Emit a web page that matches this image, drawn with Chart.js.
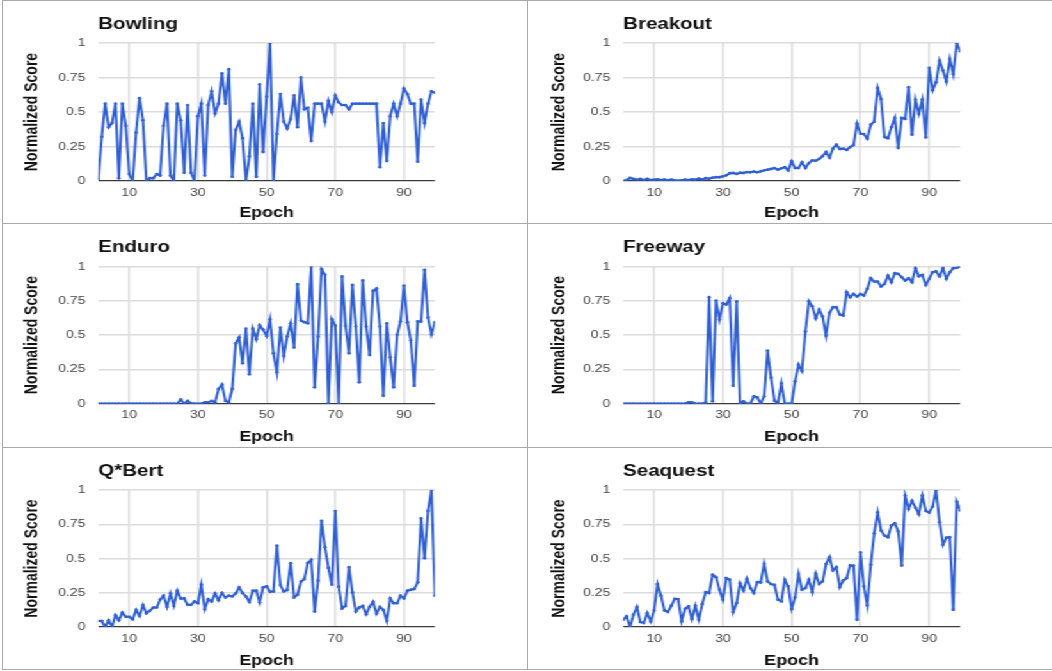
<!DOCTYPE html>
<html>
<head>
<meta charset="utf-8">
<script src="https://cdn.jsdelivr.net/npm/chart.js@4.4.1/dist/chart.umd.min.js"></script>
<style>
html,body{margin:0;padding:0;background:#fff;width:1052px;height:671px;overflow:hidden;}
#stage{position:absolute;left:0;top:0;height:671px;transform-origin:0 0;}
.panel{position:absolute;}
.panel canvas{display:block;}
.frame{position:absolute;box-sizing:border-box;border:1px solid #a9a9a9;}
</style>
</head>
<body>
<div id="frames"></div>
<div id="stage"></div>
<script>
// ---- data (normalized score per epoch, epochs 1..99) ----
const TITLES = ['Bowling', 'Breakout', 'Enduro', 'Freeway', 'Q*Bert', 'Seaquest'];
const X_TICKS = [10, 30, 50, 70, 90];
const Y_TICKS = [0, 0.25, 0.5, 0.75, 1];
const Y_TICK_LABELS = ['0', '0.25', '0.5', '0.75', '1'];
const X_TITLE = 'Epoch';
const Y_TITLE = 'Normalized Score';

const bowling = [
  0.015, 0.32, 0.56, 0.39, 0.42, 0.56, 0.02, 0.56, 0.40, 0.05,
  0.0, 0.35, 0.60, 0.44, 0.0, 0.02, 0.02, 0.05, 0.04, 0.40,
  0.56, 0.04, 0.0, 0.56, 0.44, 0.06, 0.55, 0.06, 0.0, 0.47,
  0.56, 0.04, 0.55, 0.65, 0.49, 0.56, 0.78, 0.56, 0.81, 0.03,
  0.37, 0.43, 0.31, 0.0, 0.18, 0.56, 0.03, 0.70, 0.21, 0.61,
  1.0, 0.0, 0.34, 0.63, 0.43, 0.38, 0.45, 0.62, 0.39, 0.75,
  0.52, 0.53, 0.29, 0.56, 0.56, 0.56, 0.43, 0.58, 0.50, 0.62,
  0.57, 0.55, 0.55, 0.52, 0.56, 0.56, 0.56, 0.56, 0.56, 0.56,
  0.56, 0.56, 0.10, 0.42, 0.145, 0.47, 0.56, 0.47, 0.56, 0.67,
  0.63, 0.56, 0.56, 0.14, 0.59, 0.42, 0.56, 0.65, 0.64
];
const breakout = [
  0.0, 0.007, 0.022, 0.015, 0.01, 0.015, 0.007, 0.015, 0.007, 0.01,
  0.012, 0.007, 0.01, 0.005, 0.01, 0.005, 0.002, 0.005, 0.01, 0.007,
  0.012, 0.01, 0.017, 0.012, 0.02, 0.017, 0.024, 0.027, 0.027, 0.034,
  0.041, 0.056, 0.058, 0.051, 0.06, 0.058, 0.065, 0.063, 0.068, 0.063,
  0.07, 0.077, 0.082, 0.087, 0.094, 0.082, 0.092, 0.1, 0.077, 0.143,
  0.094, 0.094, 0.135, 0.094, 0.13, 0.15, 0.147, 0.16, 0.18, 0.21,
  0.17, 0.234, 0.263, 0.232, 0.234, 0.225, 0.246, 0.26, 0.415, 0.343,
  0.34, 0.307, 0.408, 0.43, 0.674, 0.594, 0.319, 0.31, 0.39, 0.457,
  0.239, 0.457, 0.45, 0.68, 0.336, 0.59, 0.486, 0.59, 0.316, 0.82,
  0.657, 0.715, 0.872, 0.80, 0.72, 0.884, 0.775, 1.0, 0.94
];
const enduro = [
  0, 0, 0, 0, 0, 0, 0, 0, 0, 0,
  0, 0, 0, 0, 0, 0, 0, 0, 0, 0,
  0, 0, 0, 0, 0.03, 0, 0.02, 0.003, 0, 0,
  0, 0.01, 0.01, 0.02, 0.01, 0.107, 0.139, 0.02, 0.01, 0.107,
  0.44, 0.484, 0.294, 0.547, 0.214, 0.547, 0.47, 0.572, 0.54, 0.494,
  0.616, 0.367, 0.229, 0.555, 0.348, 0.489, 0.586, 0.409, 0.871, 0.606,
  0.594, 0.586, 1.0, 0.119, 0.489, 0.98, 0.939, 0, 0.616, 0.569,
  0, 0.927, 0.567, 0.367, 0.866, 0.562, 0.156, 0.898, 0.562, 0.355,
  0.822, 0.839, 0.562, 0.058, 0.586, 0.338, 0.119, 0.501, 0.6, 0.861,
  0.594, 0.46, 0.131, 0.6, 0.6, 0.976, 0.628, 0.506, 0.594
];
const freeway = [
  0, 0, 0, 0, 0, 0, 0, 0, 0, 0,
  0, 0, 0, 0, 0, 0, 0, 0, 0, 0.01,
  0.01, 0, 0, 0, 0.007, 0.776, 0.017, 0.752, 0.613, 0.732,
  0.723, 0.769, 0.131, 0.745, 0, 0.017, 0, 0, 0.054, 0.046,
  0, 0.054, 0.387, 0.19, 0.022, 0, 0.148, 0, 0, 0,
  0.163, 0.285, 0.238, 0.526, 0.747, 0.71, 0.623, 0.686, 0.635, 0.496,
  0.662, 0.703, 0.703, 0.65, 0.642, 0.813, 0.776, 0.8, 0.781, 0.8,
  0.788, 0.837, 0.915, 0.89, 0.89, 0.854, 0.873, 0.934, 0.886, 0.951,
  0.946, 0.922, 0.898, 0.915, 0.886, 0.988, 0.929, 0.939, 0.866, 0.91,
  0.959, 0.964, 0.929, 0.988, 0.91, 0.959, 0.988, 0.99, 1.0
];
const qbert = [
  0.044, 0.044, 0, 0.049, 0, 0.086, 0.049, 0.105, 0.074, 0.074,
  0.056, 0.125, 0.081, 0.16, 0.1, 0.118, 0.142, 0.142, 0.2, 0.228,
  0.147, 0.245, 0.154, 0.265, 0.208, 0.208, 0.162, 0.162, 0.186, 0.174,
  0.309, 0.13, 0.203, 0.186, 0.245, 0.196, 0.248, 0.216, 0.228, 0.223,
  0.245, 0.289, 0.248, 0.223, 0.184, 0.265, 0.265, 0.179, 0.289, 0.297,
  0.257, 0.26, 0.593, 0.306, 0.26, 0.27, 0.466, 0.216, 0.235, 0.331,
  0.35, 0.468, 0.49, 0.113, 0.338, 0.775, 0.583, 0.431, 0.309, 0.846,
  0.294, 0.135, 0.154, 0.436, 0.252, 0.113, 0.142, 0.154, 0.093, 0.147,
  0.184, 0.098, 0.147, 0.125, 0.044, 0.208, 0.174, 0.174, 0.228, 0.208,
  0.265, 0.272, 0.277, 0.326, 0.792, 0.502, 0.848, 1.0, 0.228
];
const seaquest = [
  0.053, 0.078, 0, 0.09, 0.146, 0.036, 0.029, 0.102, 0.041, 0.121,
  0.313, 0.228, 0.121, 0.109, 0.155, 0.206, 0.204, 0.041, 0.133, 0.15,
  0.058, 0.155, 0.053, 0.167, 0.255, 0.248, 0.381, 0.364, 0.272, 0.199,
  0.357, 0.345, 0.109, 0.175, 0.32, 0.267, 0.352, 0.284, 0.248, 0.328,
  0.325, 0.461, 0.333, 0.313, 0.308, 0.199, 0.187, 0.345, 0.296, 0.131,
  0.216, 0.386, 0.272, 0.284, 0.345, 0.255, 0.388, 0.313, 0.333, 0.459,
  0.51, 0.413, 0.437, 0.291, 0.34, 0.357, 0.449, 0.447, 0.053, 0.544,
  0.296, 0.158, 0.454, 0.684, 0.837, 0.704, 0.667, 0.655, 0.74, 0.757,
  0.697, 0.449, 0.959, 0.862, 0.92, 0.871, 0.823, 0.959, 0.847, 0.835,
  0.879, 1.0, 0.765, 0.6, 0.653, 0.655, 0.126, 0.915, 0.85
];
const SERIES = [bowling, breakout, enduro, freeway, qbert, seaquest];

// ---- layout / style (reference pixel coordinates) ----
const S = 1.28;               // horizontal stretch of the reference
const FONT = "'Liberation Sans', Arial, Helvetica, sans-serif";
const BLUE = '#2f5fd2';
const GRID = '#dcdcdc';
const COLS = [{x: 0, w: 527, left: 98.3, right: 434.5}, {x: 527, w: 525, left: 622.8, right: 960}];
const ROWS = [{y: 0, h: 223, top: 43, bottom: 181}, {y: 223, h: 224, top: 266.5, bottom: 403.7}, {y: 447, h: 224, top: 490, bottom: 627}];
const TITLE_CENTER = 25;

// frames
const frames = document.getElementById('frames');
const FRAME_X = [{l: 2, w: 526}, {l: 527, w: 540}];
const FRAME_Y = [{t: 0, h: 224}, {t: 223, h: 225}, {t: 447, h: 223}];
FRAME_Y.forEach(fy => FRAME_X.forEach(fx => {
  const d = document.createElement('div');
  d.className = 'frame';
  d.style.left = fx.l + 'px'; d.style.top = fy.t + 'px';
  d.style.width = fx.w + 'px'; d.style.height = fy.h + 'px';
  frames.appendChild(d);
}));

const stage = document.getElementById('stage');
stage.style.width = (1052 / S) + 'px';
stage.style.transform = 'scaleX(' + S + ')';

TITLES.forEach((title, idx) => {
  const col = COLS[idx % 2], row = ROWS[Math.floor(idx / 2)];
  const values = SERIES[idx];
  const div = document.createElement('div');
  div.className = 'panel';
  const cw = Math.round(col.w / S);
  div.style.left = (col.x / S) + 'px';
  div.style.top = row.y + 'px';
  div.style.width = cw + 'px';
  div.style.height = row.h + 'px';
  const cv = document.createElement('canvas');
  cv.width = cw; cv.height = row.h;
  div.appendChild(cv);
  stage.appendChild(div);

  const titleBox = row.top - row.y;
  const padTop = TITLE_CENTER - 8;
  const padBottom = titleBox - padTop - 16;

  new Chart(cv, {
    type: 'line',
    data: {
      datasets: [{
        data: values.map((v, i) => ({x: i + 1, y: v})),
        borderColor: BLUE,
        backgroundColor: BLUE,
        borderWidth: 2,
        pointRadius: 1.4,
        pointBorderWidth: 0,
        pointHoverRadius: 0,
        tension: 0,
        fill: false
      }]
    },
    options: {
      responsive: false,
      animation: false,
      devicePixelRatio: 1,
      layout: {padding: {left: 0, top: 0, bottom: 0, right: (col.x + col.w - col.right) / S}},
      plugins: {
        legend: {display: false},
        tooltip: {enabled: false},
        title: {
          display: true, text: title, align: 'start', fullSize: false, color: '#111',
          font: {family: FONT, size: 16, weight: 'bold', lineHeight: 1},
          padding: {top: padTop, bottom: padBottom}
        }
      },
      scales: {
        x: {
          type: 'linear', min: 1, max: 99,
          afterBuildTicks: s => { s.ticks = X_TICKS.map(v => ({value: v})); },
          afterFit: s => { s.height = row.y + row.h - row.bottom; },
          grid: {color: GRID, lineWidth: 1.5, drawTicks: false},
          border: {display: false},
          ticks: {color: '#444', font: {family: FONT, size: 11}, padding: 5, maxRotation: 0, autoSkip: false,
                  callback: v => String(v)},
          title: {display: true, text: X_TITLE, color: '#111', font: {family: FONT, size: 14, weight: 'bold'}, padding: {top: 0, bottom: 1}}
        },
        y: {
          min: 0, max: 1,
          afterBuildTicks: s => { s.ticks = Y_TICKS.map(v => ({value: v})); },
          afterFit: s => { s.width = (col.left - col.x) / S; },
          grid: {
            color: c => (c.tick && c.tick.value === 0) ? '#3a3a3a' : GRID,
            lineWidth: c => (c.tick && c.tick.value === 0) ? 1.3 : 1.5,
            drawTicks: false
          },
          border: {display: false},
          ticks: {color: '#444', font: {family: FONT, size: 11}, padding: 10,
                  callback: v => Y_TICK_LABELS[Y_TICKS.indexOf(v)]},
          title: {display: true, text: Y_TITLE, color: '#111', font: {family: FONT, size: 14, weight: 'bold'}, padding: {top: 17, bottom: 0}}
        }
      }
    }
  });
});
</script>
</body>
</html>
